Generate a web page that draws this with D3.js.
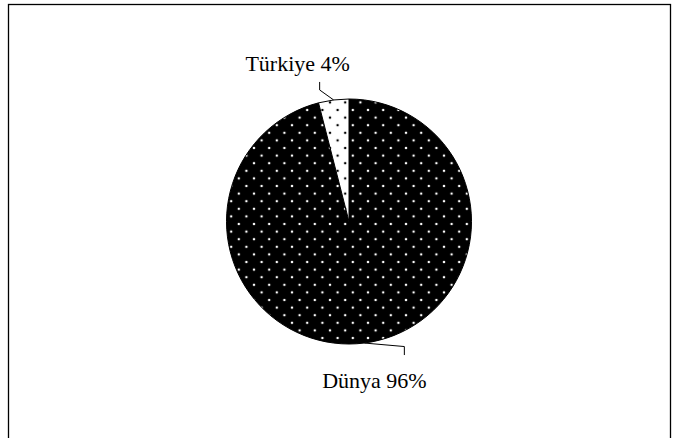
<!DOCTYPE html>
<html>
<head>
<meta charset="utf-8">
<script src="https://cdn.jsdelivr.net/npm/d3@7"></script>
<style>
  html, body { margin: 0; padding: 0; background: #fff; }
  svg { display: block; }
  text { font-family: "Liberation Serif", "Times New Roman", serif; }
</style>
</head>
<body>
<svg id="chart" width="676" height="438"></svg>
<script>
// Shares of the total
const categories = ["Dünya", "Türkiye"];
const shares = [96, 4];
const labels = ["Dünya 96%", "Türkiye 4%"];

const width = 676, height = 438;
const cx = 349, cy = 221.5, radius = 122.5;

const svg = d3.select("#chart");

// Outer frame
svg.append("rect")
  .attr("x", 8.5).attr("y", 4.5)
  .attr("width", 662).attr("height", height)
  .attr("fill", "none").attr("stroke", "#000").attr("stroke-width", 1.3);

// Dotted fills
const defs = svg.append("defs");
const tile = 15.2;
function dotPattern(id, bg, dot) {
  const p = defs.append("pattern")
    .attr("id", id)
    .attr("patternUnits", "userSpaceOnUse")
    .attr("x", 0).attr("y", 6.3)
    .attr("width", tile).attr("height", tile);
  p.append("rect").attr("width", tile).attr("height", tile).attr("fill", bg);
  [[3.8, 3.8], [3.8 + tile / 2, 3.8 + tile / 2]].forEach(([x, y]) => {
    p.append("circle").attr("cx", x).attr("cy", y).attr("r", 1.25).attr("fill", dot);
  });
}
dotPattern("dots-dark", "#000", "#ffffff");
dotPattern("dots-light", "#fff", "#000");
const fills = ["url(#dots-dark)", "url(#dots-light)"];

const pie = d3.pie().sort(null).value(d => d)(shares);
const arc = d3.arc().innerRadius(0).outerRadius(radius);

const g = svg.append("g").attr("transform", `translate(${cx},${cy})`);

g.selectAll("path.slice")
  .data(pie)
  .join("path")
  .attr("class", "slice")
  .attr("d", arc)
  .attr("fill", (d, i) => fills[i])
  .attr("stroke", "#000")
  .attr("stroke-width", 1);

// Leader lines and labels: elbow offset from the slice's outer midpoint, then a short tick
const labelLayout = [
  { elbow: [40, 3.5], tickEnd: [40, 12], text: [-30, 33], anchor: "middle" },   // Dünya
  { elbow: [-14, -10], tickEnd: [-14, -18], text: [-22, -11], anchor: "middle" } // Türkiye
];

pie.forEach((d, i) => {
  const a = (d.startAngle + d.endAngle) / 2;
  const p0 = [Math.sin(a) * radius, -Math.cos(a) * radius];
  const L = labelLayout[i];
  const p1 = [p0[0] + L.elbow[0], p0[1] + L.elbow[1]];
  const p2 = [p0[0] + L.tickEnd[0], p0[1] + L.tickEnd[1]];
  g.append("path")
    .attr("d", d3.line()([p0, p1, p2]))
    .attr("fill", "none")
    .attr("stroke", "#000")
    .attr("stroke-width", 1);
  g.append("text")
    .attr("x", p2[0] + L.text[0])
    .attr("y", p2[1] + L.text[1])
    .attr("text-anchor", L.anchor)
    .attr("font-size", 22)
    .attr("fill", "#000")
    .text(labels[i]);
});
</script>
</body>
</html>
